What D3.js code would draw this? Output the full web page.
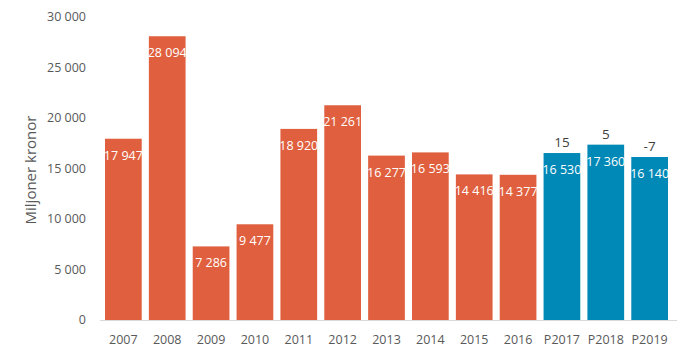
<!DOCTYPE html>
<html><head><meta charset="utf-8">
<script src="https://cdn.jsdelivr.net/npm/d3@7"></script>
<style>body{margin:0;background:#fff}svg{display:block}text{font-family:"Open Sans",sans-serif}</style>
</head><body><svg id="c" width="690" height="359"></svg>
<script>
const categories=["2007","2008","2009","2010","2011","2012","2013","2014","2015","2016","P2017","P2018","P2019"];
const values=[17947,28094,7286,9477,18920,21261,16277,16593,14416,14377,16530,17360,16140];
const changes=[null,null,null,null,null,null,null,null,null,null,"15","5","-7"];
const yTicks=[0,5000,10000,15000,20000,25000,30000];
const yTitle="Miljoner kronor";

const svg=d3.select("#c");
const x=d3.scaleBand().domain(categories).range([101.5,671.5]).paddingInner(0.163).paddingOuter(0.08);
const y=d3.scaleLinear().domain([0,30000]).range([320,17]);
const fmt=v=>d3.format(",")(v).replace(/,/g," ");
const color=c=>c.startsWith("P")?"#0088B6":"#DF5F3E";

svg.append("g").selectAll("text").data(yTicks).join("text")
 .attr("x",86).attr("y",d=>y(d)).attr("dy","0.35em").attr("text-anchor","end")
 .attr("fill","#595959").style("font-size","12.5px").text(fmt);

svg.append("text").attr("transform","translate(36,170) rotate(-90)").attr("text-anchor","middle")
 .attr("fill","#595959").style("font-size","15px").text(yTitle);

svg.append("g").selectAll("rect").data(categories).join("rect")
 .attr("x",d=>x(d)).attr("width",x.bandwidth())
 .attr("y",(d,i)=>y(values[i])).attr("height",(d,i)=>y(0)-y(values[i]))
 .attr("fill",color);

svg.append("line").attr("x1",100).attr("x2",677).attr("y1",320.5).attr("y2",320.5).attr("stroke","#d9d9d9");

svg.append("g").selectAll("text").data(categories).join("text")
 .attr("x",d=>x(d)+x.bandwidth()/2).attr("y",340).attr("dy","0.35em").attr("text-anchor","middle")
 .attr("fill","#595959").style("font-size","12.5px").text(d=>d);

svg.append("g").selectAll("text").data(categories).join("text")
 .attr("x",d=>x(d)+x.bandwidth()/2).attr("y",(d,i)=>y(values[i])+21).attr("text-anchor","middle")
 .attr("fill","#fff").style("font-size","12.5px").text((d,i)=>fmt(values[i]));

svg.append("g").selectAll("text").data(categories.filter((d,i)=>changes[i]!==null)).join("text")
 .attr("x",d=>x(d)+x.bandwidth()/2).attr("y",d=>y(values[categories.indexOf(d)])-6).attr("text-anchor","middle")
 .attr("fill","#404040").style("font-size","13.5px").text(d=>changes[categories.indexOf(d)]);
</script></body></html>
